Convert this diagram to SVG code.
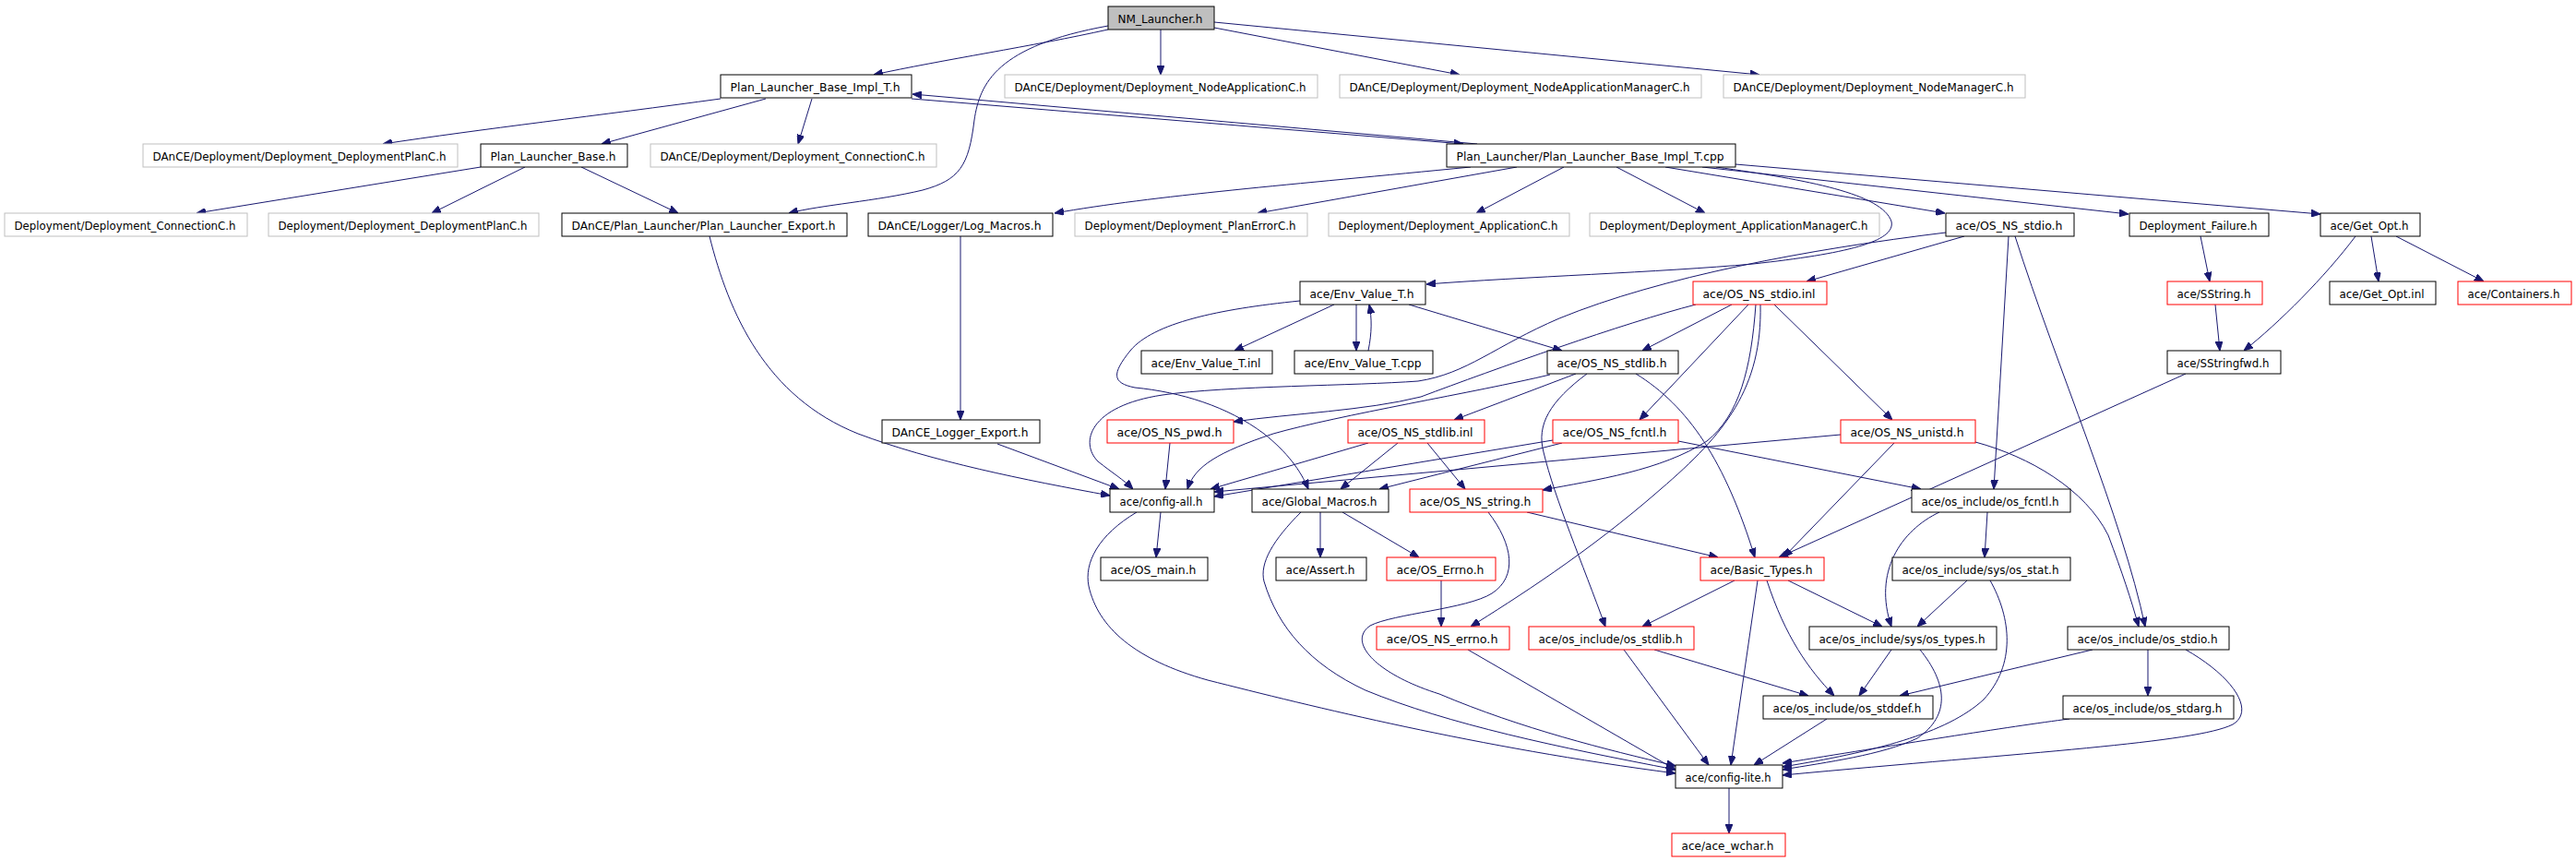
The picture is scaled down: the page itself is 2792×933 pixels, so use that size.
<svg xmlns="http://www.w3.org/2000/svg" width="2792" height="933" viewBox="0 0 2792 933">
<style>
rect{fill:#fff;stroke:#000;stroke-width:1}
.g rect{stroke:#bfbfbf}
.r rect{stroke:#ff0000}
.root rect{fill:#bfbfbf}
text{font-family:"DejaVu Sans","Liberation Sans",sans-serif;font-size:13px;fill:#000;text-anchor:middle}
#edges path{fill:none;stroke:#191970;stroke-width:1;marker-end:url(#a)}
</style>
<defs>
<marker id="a" markerUnits="userSpaceOnUse" markerWidth="10" markerHeight="8" refX="10" refY="4" orient="auto"><path d="M0,0 L10,4 L0,8 z" fill="#191970" stroke="#191970" stroke-width="1"/></marker>
</defs>
<rect x="0" y="0" width="2792" height="933" style="fill:#fff;stroke:none"/>
<g id="edges">
<path d="M1201,32 C1120,50 1020,65 947,81"/>
<path d="M1201,28 C1080,50 1062,90 1056,130 C1050,180 1040,195 1000,206 C950,218 890,222 855,231"/>
<path d="M1258,32 L1258,81"/>
<path d="M1316,30 L1582,81"/>
<path d="M1316,24 L1907,81"/>
<path d="M781,107 C650,125 520,140 415,156"/>
<path d="M830,107 L652,156"/>
<path d="M880,107 L865,156"/>
<path d="M988,107 L1586,156"/>
<path d="M1601,156 L989,102"/>
<path d="M521,181 L213,231"/>
<path d="M569,181 L468,231"/>
<path d="M630,181 L735,231"/>
<path d="M769,256 C790,340 830,430 930,470 C1010,500 1110,520 1203,537"/>
<path d="M1594,181 C1400,200 1250,212 1143,231"/>
<path d="M1644,181 L1363,231"/>
<path d="M1695,181 L1600,231"/>
<path d="M1752,181 L1848,231"/>
<path d="M1805,181 L2108,231"/>
<path d="M1845,181 L2307,232"/>
<path d="M1881,178 L2515,232"/>
<path d="M1860,181 C1960,195 2040,210 2050,240 C2055,262 2000,275 1900,286 C1800,295 1650,300 1546,308"/>
<path d="M1041,256 L1041,455"/>
<path d="M1081,481 L1213,530"/>
<path d="M2129,256 L1958,305"/>
<path d="M2109,252 C1960,270 1800,300 1690,345 C1620,375 1590,405 1537,413 C1470,418 1330,418 1260,428 C1180,440 1170,480 1190,500 C1205,512 1218,520 1228,530"/>
<path d="M2177,256 L2161,530"/>
<path d="M2184,256 C2230,400 2300,560 2325,679"/>
<path d="M2385,256 L2395,305"/>
<path d="M2553,256 C2520,300 2470,350 2432,380"/>
<path d="M2570,256 L2578,305"/>
<path d="M2597,256 L2692,305"/>
<path d="M1446,330 L1338,380"/>
<path d="M1470,330 L1470,380"/>
<path d="M1483,380 C1487,360 1487,345 1484,330"/>
<path d="M1527,330 L1693,380"/>
<path d="M1409,326 C1320,335 1250,350 1225,380 C1205,405 1205,415 1230,420 C1280,425 1330,440 1370,470 C1395,490 1410,510 1418,530"/>
<path d="M1877,330 L1780,380"/>
<path d="M1838,330 C1760,350 1620,400 1540,430 C1480,445 1400,448 1337,457"/>
<path d="M1895,330 L1777,455"/>
<path d="M1903,330 C1898,400 1885,450 1850,478 C1800,510 1730,520 1672,531"/>
<path d="M1908,330 C1910,420 1870,470 1800,530 C1720,600 1640,650 1594,679"/>
<path d="M1923,330 L2051,455"/>
<path d="M2401,330 L2406,380"/>
<path d="M1708,405 L1576,455"/>
<path d="M1680,406 C1600,425 1450,450 1380,470 C1320,490 1295,505 1287,530"/>
<path d="M1720,405 C1680,435 1665,460 1673,490 C1685,540 1715,610 1740,679"/>
<path d="M1773,405 C1830,440 1870,500 1902,604"/>
<path d="M2369,405 L1928,604"/>
<path d="M1268,480 L1263,530"/>
<path d="M1483,480 L1312,530"/>
<path d="M1515,480 L1453,530"/>
<path d="M1547,480 L1588,530"/>
<path d="M1683,477 L1316,538"/>
<path d="M1693,480 L1495,530"/>
<path d="M1819,478 L2082,530"/>
<path d="M1995,471 L1316,533"/>
<path d="M2053,480 L1933,604"/>
<path d="M2141,479 C2200,495 2260,530 2285,580 C2300,620 2310,650 2318,679"/>
<path d="M1258,555 L1253,604"/>
<path d="M1232,555 C1190,580 1175,610 1180,635 C1190,680 1230,715 1309,737 C1420,765 1600,810 1816,838"/>
<path d="M1431,555 L1431,604"/>
<path d="M1455,555 L1538,604"/>
<path d="M1410,555 C1380,585 1365,610 1370,630 C1385,680 1420,720 1480,748 C1570,785 1690,810 1816,834"/>
<path d="M1655,555 L1862,604"/>
<path d="M1613,555 C1640,590 1645,625 1617,643 C1590,660 1510,665 1485,678 C1460,695 1490,730 1560,752 C1650,790 1740,812 1816,830"/>
<path d="M2154,555 L2151,604"/>
<path d="M2102,555 C2060,575 2030,620 2050,679"/>
<path d="M1562,629 L1562,679"/>
<path d="M1880,629 L1780,679"/>
<path d="M1905,629 L1876,829"/>
<path d="M1915,629 C1935,690 1960,725 1988,754"/>
<path d="M1938,629 L2040,679"/>
<path d="M2132,629 L2078,679"/>
<path d="M2157,629 C2180,670 2185,720 2150,758 C2110,795 2030,815 1932,831"/>
<path d="M1591,704 L1816,834"/>
<path d="M1793,704 L1960,754"/>
<path d="M1760,704 L1852,829"/>
<path d="M2050,704 L2015,754"/>
<path d="M2081,704 C2110,740 2115,775 2078,800 C2040,818 1980,826 1932,834"/>
<path d="M2268,704 L2059,754"/>
<path d="M2328,704 L2328,754"/>
<path d="M2369,704 C2420,733 2445,770 2420,785 C2380,805 2200,815 1932,840"/>
<path d="M2243,779 C2180,787 2050,808 1932,827"/>
<path d="M1980,779 L1901,829"/>
<path d="M1874,854 L1874,903"/>
</g>
<g id="n1" class="root"><rect x="1201" y="7" width="115" height="25"/><text x="1257.5" y="24.5" textLength="92" lengthAdjust="spacingAndGlyphs">NM_Launcher.h</text></g>
<g id="n2"><rect x="781" y="81" width="207" height="25"/><text x="883.5" y="98.5" textLength="184" lengthAdjust="spacingAndGlyphs">Plan_Launcher_Base_Impl_T.h</text></g>
<g id="n3" class="g"><rect x="1089" y="81" width="339" height="25"/><text x="1257.5" y="98.5" textLength="316" lengthAdjust="spacingAndGlyphs">DAnCE/Deployment/Deployment_NodeApplicationC.h</text></g>
<g id="n4" class="g"><rect x="1452" y="81" width="392" height="25"/><text x="1647" y="98.5" textLength="369" lengthAdjust="spacingAndGlyphs">DAnCE/Deployment/Deployment_NodeApplicationManagerC.h</text></g>
<g id="n5" class="g"><rect x="1868" y="81" width="327" height="25"/><text x="2030.5" y="98.5" textLength="304" lengthAdjust="spacingAndGlyphs">DAnCE/Deployment/Deployment_NodeManagerC.h</text></g>
<g id="n6" class="g"><rect x="155" y="156" width="341" height="25"/><text x="324.5" y="173.5" textLength="318" lengthAdjust="spacingAndGlyphs">DAnCE/Deployment/Deployment_DeploymentPlanC.h</text></g>
<g id="n7"><rect x="521" y="156" width="159" height="25"/><text x="599.5" y="173.5" textLength="136" lengthAdjust="spacingAndGlyphs">Plan_Launcher_Base.h</text></g>
<g id="n8" class="g"><rect x="705" y="156" width="310" height="25"/><text x="859" y="173.5" textLength="287" lengthAdjust="spacingAndGlyphs">DAnCE/Deployment/Deployment_ConnectionC.h</text></g>
<g id="n9"><rect x="1568" y="156" width="313" height="25"/><text x="1723.5" y="173.5" textLength="290" lengthAdjust="spacingAndGlyphs">Plan_Launcher/Plan_Launcher_Base_Impl_T.cpp</text></g>
<g id="n10" class="g"><rect x="5" y="231" width="263" height="25"/><text x="135.5" y="248.5" textLength="240" lengthAdjust="spacingAndGlyphs">Deployment/Deployment_ConnectionC.h</text></g>
<g id="n11" class="g"><rect x="291" y="231" width="293" height="25"/><text x="436.5" y="248.5" textLength="270" lengthAdjust="spacingAndGlyphs">Deployment/Deployment_DeploymentPlanC.h</text></g>
<g id="n12"><rect x="609" y="231" width="309" height="25"/><text x="762.5" y="248.5" textLength="286" lengthAdjust="spacingAndGlyphs">DAnCE/Plan_Launcher/Plan_Launcher_Export.h</text></g>
<g id="n13"><rect x="941" y="231" width="200" height="25"/><text x="1040" y="248.5" textLength="177" lengthAdjust="spacingAndGlyphs">DAnCE/Logger/Log_Macros.h</text></g>
<g id="n14" class="g"><rect x="1165" y="231" width="252" height="25"/><text x="1290" y="248.5" textLength="229" lengthAdjust="spacingAndGlyphs">Deployment/Deployment_PlanErrorC.h</text></g>
<g id="n15" class="g"><rect x="1440" y="231" width="261" height="25"/><text x="1569.5" y="248.5" textLength="238" lengthAdjust="spacingAndGlyphs">Deployment/Deployment_ApplicationC.h</text></g>
<g id="n16" class="g"><rect x="1723" y="231" width="314" height="25"/><text x="1879" y="248.5" textLength="291" lengthAdjust="spacingAndGlyphs">Deployment/Deployment_ApplicationManagerC.h</text></g>
<g id="n17"><rect x="2109" y="231" width="139" height="25"/><text x="2177.5" y="248.5" textLength="116" lengthAdjust="spacingAndGlyphs">ace/OS_NS_stdio.h</text></g>
<g id="n18"><rect x="2308" y="231" width="151" height="25"/><text x="2382.5" y="248.5" textLength="128" lengthAdjust="spacingAndGlyphs">Deployment_Failure.h</text></g>
<g id="n19"><rect x="2515" y="231" width="108" height="25"/><text x="2568" y="248.5" textLength="85" lengthAdjust="spacingAndGlyphs">ace/Get_Opt.h</text></g>
<g id="n20"><rect x="1409" y="305" width="136" height="25"/><text x="1476" y="322.5" textLength="113" lengthAdjust="spacingAndGlyphs">ace/Env_Value_T.h</text></g>
<g id="n21" class="r"><rect x="1835" y="305" width="145" height="25"/><text x="1906.5" y="322.5" textLength="122" lengthAdjust="spacingAndGlyphs">ace/OS_NS_stdio.inl</text></g>
<g id="n22" class="r"><rect x="2349" y="305" width="103" height="25"/><text x="2399.5" y="322.5" textLength="80" lengthAdjust="spacingAndGlyphs">ace/SString.h</text></g>
<g id="n23"><rect x="2525" y="305" width="115" height="25"/><text x="2581.5" y="322.5" textLength="92" lengthAdjust="spacingAndGlyphs">ace/Get_Opt.inl</text></g>
<g id="n24" class="r"><rect x="2664" y="305" width="123" height="25"/><text x="2724.5" y="322.5" textLength="100" lengthAdjust="spacingAndGlyphs">ace/Containers.h</text></g>
<g id="n25"><rect x="1237" y="380" width="142" height="25"/><text x="1307" y="397.5" textLength="119" lengthAdjust="spacingAndGlyphs">ace/Env_Value_T.inl</text></g>
<g id="n26"><rect x="1403" y="380" width="150" height="25"/><text x="1477" y="397.5" textLength="127" lengthAdjust="spacingAndGlyphs">ace/Env_Value_T.cpp</text></g>
<g id="n27"><rect x="1677" y="380" width="142" height="25"/><text x="1747" y="397.5" textLength="119" lengthAdjust="spacingAndGlyphs">ace/OS_NS_stdlib.h</text></g>
<g id="n28"><rect x="2349" y="380" width="123" height="25"/><text x="2409.5" y="397.5" textLength="100" lengthAdjust="spacingAndGlyphs">ace/SStringfwd.h</text></g>
<g id="n29"><rect x="956" y="455" width="171" height="25"/><text x="1040.5" y="472.5" textLength="148" lengthAdjust="spacingAndGlyphs">DAnCE_Logger_Export.h</text></g>
<g id="n30" class="r"><rect x="1200" y="455" width="137" height="25"/><text x="1267.5" y="472.5" textLength="114" lengthAdjust="spacingAndGlyphs">ace/OS_NS_pwd.h</text></g>
<g id="n31" class="r"><rect x="1461" y="455" width="148" height="25"/><text x="1534" y="472.5" textLength="125" lengthAdjust="spacingAndGlyphs">ace/OS_NS_stdlib.inl</text></g>
<g id="n32" class="r"><rect x="1683" y="455" width="136" height="25"/><text x="1750" y="472.5" textLength="113" lengthAdjust="spacingAndGlyphs">ace/OS_NS_fcntl.h</text></g>
<g id="n33" class="r"><rect x="1995" y="455" width="146" height="25"/><text x="2067" y="472.5" textLength="123" lengthAdjust="spacingAndGlyphs">ace/OS_NS_unistd.h</text></g>
<g id="n34"><rect x="1203" y="530" width="113" height="25"/><text x="1258.5" y="547.5" textLength="90" lengthAdjust="spacingAndGlyphs">ace/config-all.h</text></g>
<g id="n35"><rect x="1357" y="530" width="148" height="25"/><text x="1430" y="547.5" textLength="125" lengthAdjust="spacingAndGlyphs">ace/Global_Macros.h</text></g>
<g id="n36" class="r"><rect x="1528" y="530" width="144" height="25"/><text x="1599" y="547.5" textLength="121" lengthAdjust="spacingAndGlyphs">ace/OS_NS_string.h</text></g>
<g id="n37"><rect x="2072" y="530" width="172" height="25"/><text x="2157" y="547.5" textLength="149" lengthAdjust="spacingAndGlyphs">ace/os_include/os_fcntl.h</text></g>
<g id="n38"><rect x="1193" y="604" width="116" height="25"/><text x="1250" y="621.5" textLength="93" lengthAdjust="spacingAndGlyphs">ace/OS_main.h</text></g>
<g id="n39"><rect x="1383" y="604" width="98" height="25"/><text x="1431" y="621.5" textLength="75" lengthAdjust="spacingAndGlyphs">ace/Assert.h</text></g>
<g id="n40" class="r"><rect x="1503" y="604" width="118" height="25"/><text x="1561" y="621.5" textLength="95" lengthAdjust="spacingAndGlyphs">ace/OS_Errno.h</text></g>
<g id="n41" class="r"><rect x="1843" y="604" width="134" height="25"/><text x="1909" y="621.5" textLength="111" lengthAdjust="spacingAndGlyphs">ace/Basic_Types.h</text></g>
<g id="n42"><rect x="2051" y="604" width="193" height="25"/><text x="2146.5" y="621.5" textLength="170" lengthAdjust="spacingAndGlyphs">ace/os_include/sys/os_stat.h</text></g>
<g id="n43" class="r"><rect x="1492" y="679" width="144" height="25"/><text x="1563" y="696.5" textLength="121" lengthAdjust="spacingAndGlyphs">ace/OS_NS_errno.h</text></g>
<g id="n44" class="r"><rect x="1657" y="679" width="179" height="25"/><text x="1745.5" y="696.5" textLength="156" lengthAdjust="spacingAndGlyphs">ace/os_include/os_stdlib.h</text></g>
<g id="n45"><rect x="1961" y="679" width="203" height="25"/><text x="2061.5" y="696.5" textLength="180" lengthAdjust="spacingAndGlyphs">ace/os_include/sys/os_types.h</text></g>
<g id="n46"><rect x="2241" y="679" width="175" height="25"/><text x="2327.5" y="696.5" textLength="152" lengthAdjust="spacingAndGlyphs">ace/os_include/os_stdio.h</text></g>
<g id="n47"><rect x="1911" y="754" width="184" height="25"/><text x="2002" y="771.5" textLength="161" lengthAdjust="spacingAndGlyphs">ace/os_include/os_stddef.h</text></g>
<g id="n48"><rect x="2236" y="754" width="185" height="25"/><text x="2327.5" y="771.5" textLength="162" lengthAdjust="spacingAndGlyphs">ace/os_include/os_stdarg.h</text></g>
<g id="n49"><rect x="1816" y="829" width="116" height="25"/><text x="1873" y="846.5" textLength="93" lengthAdjust="spacingAndGlyphs">ace/config-lite.h</text></g>
<g id="n50" class="r"><rect x="1812" y="903" width="123" height="25"/><text x="1872.5" y="920.5" textLength="100" lengthAdjust="spacingAndGlyphs">ace/ace_wchar.h</text></g>
</svg>
